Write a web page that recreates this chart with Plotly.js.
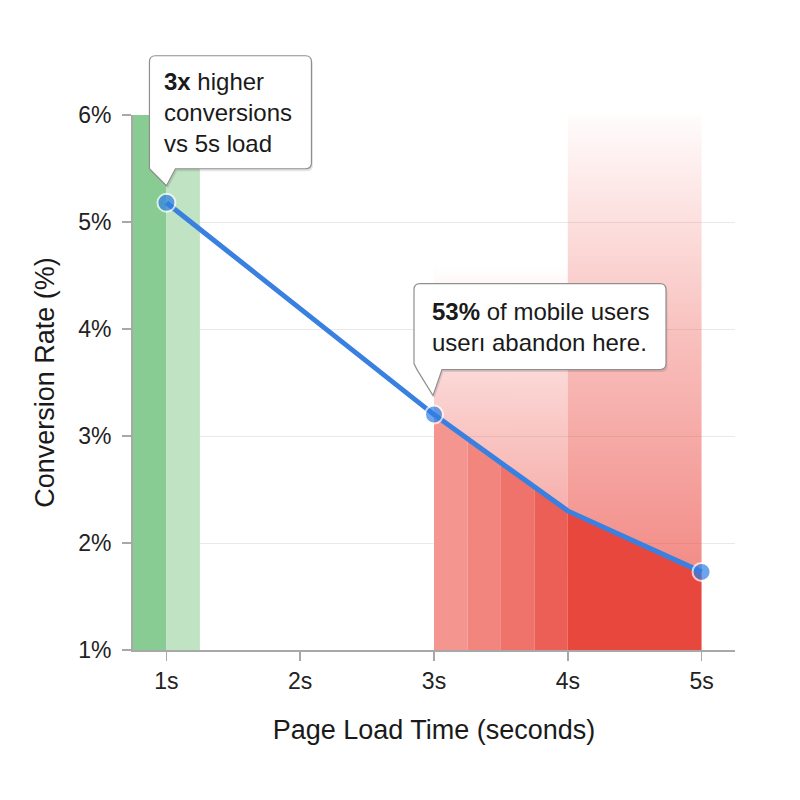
<!DOCTYPE html>
<html>
<head>
<meta charset="utf-8">
<script src="https://cdn.plot.ly/plotly-3.0.1.min.js"></script>
<style>
  html, body { margin: 0; padding: 0; background: #fff; }
  #chart { width: 800px; height: 800px; }
</style>
</head>
<body>
<div id="chart"></div>
<script>
// line data
const loadTimes = [1, 3, 4, 5];
const conversionRates = [5.18, 3.2, 2.3, 1.73];
const markerShown = [true, true, false, true];

// axis ticks
const xTickVals = [1, 2, 3, 4, 5];
const xTickText = ['1s', '2s', '3s', '4s', '5s'];
const yTickVals = [1, 2, 3, 4, 5, 6];
const yTickText = ['1%', '2%', '3%', '4%', '5%', '6%'];

// fast zone (green) and slow zone (red) bands
const fastEdges = [0.75, 1, 1.25];
const fastColors = ['#88cb93', '#bfe3c3'];
const slowEdges = [3, 3.25, 3.5, 3.75, 4, 5];
const slowColors = ['#f4968f', '#f2857e', '#ef726b', '#ec5f57', '#e8473d'];

// faded area above the line in the slow zone
const fadeStarts = [3, 4];
const fadeEnds = [4, 5];
const fadeTops = [4.6, 6.1];
const fadeAlpha = [0.45, 0.65];

// callout texts
const callout1 = '<b>3x</b> higher<br>conversions<br>vs 5s load';
const callout2 = '<b>53%</b> of mobile users<br>userı abandon here.';

const xRange = [0.75, 5.25];
const yRange = [1, 6];

function lineAt(x) {
    for (let i = 0; i < loadTimes.length - 1; i++) {
        const x0 = loadTimes[i], x1 = loadTimes[i + 1];
        if (x >= x0 && x <= x1) {
            const t = (x - x0) / (x1 - x0);
            return conversionRates[i] + t * (conversionRates[i + 1] - conversionRates[i]);
        }
    }
    return null;
}

function vertsBetween(a, b) {
    return loadTimes.filter(v => v > a && v < b);
}

const data = [];

// green bands
for (let i = 0; i < fastColors.length; i++) {
    const a = fastEdges[i], b = fastEdges[i + 1];
    data.push({
        type: 'scatter', mode: 'none', fill: 'toself',
        x: [a, a, b, b], y: [yRange[0], yRange[1], yRange[1], yRange[0]],
        fillcolor: fastColors[i], hoverinfo: 'skip', showlegend: false
    });
}

// faded red above the line
for (let i = 0; i < fadeStarts.length; i++) {
    const a = fadeStarts[i], b = fadeEnds[i];
    const mid = vertsBetween(a, b);
    const xs = [a, ...mid, b, b, a];
    const ys = [lineAt(a), ...mid.map(lineAt), lineAt(b), fadeTops[i], fadeTops[i]];
    const al = fadeAlpha[i];
    data.push({
        type: 'scatter', mode: 'none', fill: 'toself',
        x: xs, y: ys,
        fillcolor: 'rgba(236,80,72,0.3)',
        fillgradient: {
            type: 'vertical',
            start: lineAt(b), stop: fadeTops[i],
            colorscale: [
                [0, 'rgba(236,78,70,' + al + ')'],
                [0.5, 'rgba(236,78,70,' + (al * 0.55).toFixed(3) + ')'],
                [1, 'rgba(236,78,70,0)']
            ]
        },
        hoverinfo: 'skip', showlegend: false
    });
}

// red bands under the line
for (let i = 0; i < slowColors.length; i++) {
    const a = slowEdges[i], b = slowEdges[i + 1];
    const mid = vertsBetween(a, b);
    data.push({
        type: 'scatter', mode: 'none', fill: 'toself',
        x: [a, a, ...mid, b, b],
        y: [yRange[0], lineAt(a), ...mid.map(lineAt), lineAt(b), yRange[0]],
        fillcolor: slowColors[i], hoverinfo: 'skip', showlegend: false
    });
}

// conversion line
data.push({
    type: 'scatter', mode: 'lines+markers',
    x: loadTimes, y: conversionRates,
    line: { color: '#3a80e0', width: 5 },
    marker: {
        size: markerShown.map(s => s ? 18 : 0),
        color: '#2f7fe6',
        line: { color: '#ffffff', width: 2 }
    },
    cliponaxis: false,
    hoverinfo: 'skip', showlegend: false
});

// speech bubble path in pixels relative to the anchor point (y up)
function bubblePath(L, R, T, B, b0, b1, tx, ty, r, dx, dy) {
    const p = (x, y) => (x + dx) + ',' + (y + dy);
    let s = 'M' + p(L + r, T) + ' L' + p(R - r, T) + ' Q' + p(R, T) + ' ' + p(R, T - r) +
        ' L' + p(R, B + r) + ' Q' + p(R, B) + ' ' + p(R - r, B) +
        ' L' + p(b1, B) + ' L' + p(tx, ty) + ' L' + p(b0, B);
    if (b0 > L + r) {
        s += ' L' + p(L + r, B) + ' Q' + p(L, B) + ' ' + p(L, B + r);
    } else {
        s += ' L' + p(L, B + r);
    }
    s += ' L' + p(L, T - r) + ' Q' + p(L, T) + ' ' + p(L + r, T) + ' Z';
    return s;
}

const toPaperX = x => (x - xRange[0]) / (xRange[1] - xRange[0]);
const toPaperY = y => (y - yRange[0]) / (yRange[1] - yRange[0]);

function bubbleShapes(ax, ay, geom) {
    const base = {
        type: 'path', xref: 'paper', yref: 'paper',
        xsizemode: 'pixel', ysizemode: 'pixel',
        xanchor: toPaperX(ax), yanchor: toPaperY(ay), layer: 'above'
    };
    return [
        Object.assign({}, base, {
            path: bubblePath(...geom, 6, 1.5, -2.5),
            fillcolor: 'rgba(0,0,0,0.10)', line: { width: 0 }
        }),
        Object.assign({}, base, {
            path: bubblePath(...geom, 6, 0, 0),
            fillcolor: '#ffffff', line: { color: '#8f8f8f', width: 1.2 }
        })
    ];
}

const shapes = [
    ...bubbleShapes(loadTimes[0], conversionRates[0], [-17, 145, 147, 34, -17, 9, 0, 17]),
    ...bubbleShapes(loadTimes[1], conversionRates[1], [-20, 232, 131, 45, -17, 8, -1, 19])
];

const font = '"Liberation Sans", Arial, Helvetica, sans-serif';

const annotations = [
    {
        xref: 'paper', yref: 'paper', x: toPaperX(loadTimes[0]), y: toPaperY(conversionRates[0]),
        xanchor: 'left', yanchor: 'top', xshift: -4, yshift: 137,
        align: 'left', showarrow: false, text: callout1,
        font: { family: font, size: 24, color: '#1a1a1a' }
    },
    {
        xref: 'paper', yref: 'paper', x: toPaperX(loadTimes[1]), y: toPaperY(conversionRates[1]),
        xanchor: 'left', yanchor: 'top', xshift: -4, yshift: 119,
        align: 'left', showarrow: false, text: callout2,
        font: { family: font, size: 24, color: '#1a1a1a' }
    }
];

const layout = {
    width: 800, height: 800,
    margin: { l: 133, r: 65, t: 115, b: 150, pad: 0 },
    paper_bgcolor: '#ffffff', plot_bgcolor: '#ffffff',
    font: { family: font, color: '#222222' },
    showlegend: false,
    xaxis: {
        range: xRange,
        tickvals: xTickVals, ticktext: xTickText,
        ticks: 'outside', ticklen: 9, tickwidth: 1.5, tickcolor: '#a8a8a8',
        showline: true, linecolor: '#a8a8a8', linewidth: 2,
        showgrid: false, zeroline: false,
        tickfont: { size: 23, color: '#222222' },
        title: { text: 'Page Load Time (seconds)', font: { size: 27, color: '#1a1a1a' }, standoff: 28 },
        fixedrange: true
    },
    yaxis: {
        range: yRange,
        tickvals: yTickVals, ticktext: yTickText,
        ticks: 'outside', ticklen: 9, tickwidth: 1.5, tickcolor: '#a8a8a8',
        ticklabelstandoff: 6,
        showline: true, linecolor: '#a8a8a8', linewidth: 2,
        showgrid: true, gridcolor: '#e9e9e9', gridwidth: 1,
        zeroline: false,
        tickfont: { size: 23, color: '#222222' },
        title: { text: 'Conversion Rate (%)', font: { size: 27, color: '#1a1a1a' }, standoff: 16 },
        fixedrange: true
    },
    shapes: shapes,
    annotations: annotations
};

Plotly.newPlot('chart', data, layout, { displayModeBar: false, staticPlot: true });
</script>
</body>
</html>
